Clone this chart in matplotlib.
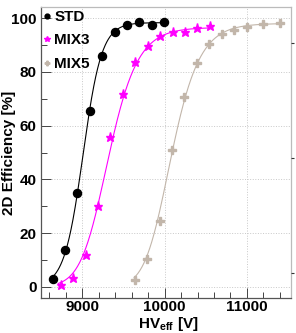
import numpy as np
import matplotlib
matplotlib.use('Agg')
import matplotlib.pyplot as plt
from matplotlib.ticker import MultipleLocator

plt.rcParams['font.family'] = ['Liberation Sans', 'DejaVu Sans']
plt.rcParams['font.weight'] = 'bold'
plt.rcParams['mathtext.fontset'] = 'custom'
plt.rcParams['mathtext.bf'] = 'Liberation Sans:bold'
plt.rcParams['mathtext.rm'] = 'Liberation Sans:bold'

# measured points (HV_eff in V, efficiency in %)
hv_std = [8640, 8790, 8940, 9090, 9240, 9395, 9545, 9695, 9845, 9995]
eff_std = [3.1, 13.6, 35.0, 65.5, 86.0, 94.7, 97.4, 98.4, 97.4, 98.5]

hv_mix3 = [8737, 8891, 9044, 9194, 9343, 9492, 9645, 9794, 9948, 10097,
           10247, 10396, 10550]
eff_mix3 = [0.9, 3.5, 12.0, 30.2, 55.7, 71.8, 83.5, 89.7, 93.2, 95.0,
            94.8, 96.3, 96.9]

hv_mix5 = [9645, 9787, 9948, 10093, 10239, 10392, 10545, 10695, 10844,
           10998, 11199, 11400]
eff_mix5 = [2.5, 10.3, 24.4, 51.0, 70.5, 83.3, 90.3, 94.1, 95.5, 96.8,
            97.8, 98.0]

# sigmoid fit parameters: emax, lambda, hv0, power, fit range
fit_std = (98.3, 0.0088, 9010, 1.0, 8620, 10000)
fit_mix3 = (96.5, 0.0050, 9169, 1.8, 8710, 10560)
fit_mix5 = (98.0, 0.0050, 9886, 2.2, 9630, 11410)

right_ticks = [5.1, 48.1, 90.6]


def sigmoid(x, emax, lam, hv0, p):
    return emax * (1 + np.exp(-lam * (x - hv0))) ** (-p)


fig = plt.figure(figsize=(2.96, 3.33), dpi=100)
ax = fig.add_axes([0.1385, 0.106, 0.9831 - 0.1385, 0.978 - 0.106])

series = [
    ('STD', hv_std, eff_std, fit_std, 'black', 'o', 5.8),
    ('MIX3', hv_mix3, eff_mix3, fit_mix3, '#ff00ff', '*', 6.8),
    ('MIX5', hv_mix5, eff_mix5, fit_mix5, '#c2b6aa', 'P', 5.5),
]

handles = []
for name, hv, eff, fit, col, mk, ms in series:
    emax, lam, hv0, p, x0, x1 = fit
    xx = np.linspace(x0, x1, 300)
    ax.plot(xx, sigmoid(xx, emax, lam, hv0, p), color=col, lw=0.8)
    h, = ax.plot(hv, eff, ls='none', marker=mk, ms=ms, color=col,
                 mec=col, label=name)
    handles.append(h)

ax.set_xlim(8500, 11535)
ax.set_ylim(-4, 104)
ax.xaxis.set_major_locator(MultipleLocator(1000))
ax.xaxis.set_minor_locator(MultipleLocator(200))
ax.yaxis.set_major_locator(MultipleLocator(20))
ax.yaxis.set_minor_locator(MultipleLocator(10))
ax.tick_params(which='both', direction='in', colors='#444444',
               labelcolor='black', labelsize=11, top=False, right=False)
ax.tick_params(which='major', length=7, width=0.7)
ax.tick_params(which='minor', length=4, width=0.7)
ax.tick_params(axis='x', pad=2)
ax.tick_params(axis='y', pad=3)
for lab in ax.get_xticklabels() + ax.get_yticklabels():
    lab.set_fontweight('bold')

ax.grid(True, which='major', ls=':', color='#c8c8c8', lw=0.7)
ax.set_axisbelow(True)

for side in ['left', 'bottom']:
    ax.spines[side].set_color('#555555')
    ax.spines[side].set_linewidth(0.9)
for side in ['top', 'right']:
    ax.spines[side].set_color('#bbbbbb')
    ax.spines[side].set_linewidth(0.9)

ax.set_xlabel('HV$_{\\mathbf{eff}}$ [V]', fontsize=11, fontweight='bold')
ax.xaxis.set_label_coords(0.51, -0.058)
ax.set_ylabel('2D Efficiency [%]', fontsize=11, fontweight='bold')
ax.yaxis.set_label_coords(-0.098, 0.5)

leg = ax.legend(handles=handles, loc='upper left', frameon=False,
                markerscale=0.6, handlelength=0.5, handletextpad=0.2,
                borderaxespad=0.05, borderpad=0.12, labelspacing=0.62,
                prop={'size': 11, 'weight': 'bold'})

ax2 = ax.twinx()
ax2.set_ylim(ax.get_ylim())
ax2.set_yticks(right_ticks)
ax2.tick_params(axis='y', direction='out', length=2, width=0.8, pad=2,
                labelright=False, colors='#333333')
for s in ax2.spines.values():
    s.set_visible(False)

fig.savefig('out.png', dpi=100)
